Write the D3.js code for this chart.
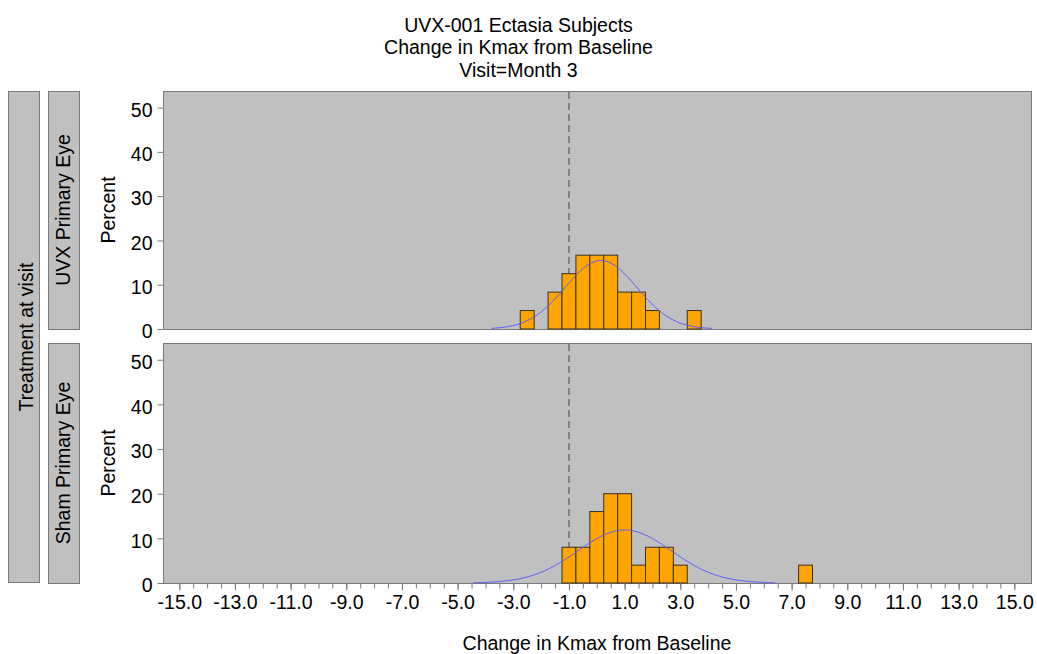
<!DOCTYPE html>
<html>
<head>
<meta charset="utf-8">
<script src="https://cdn.jsdelivr.net/npm/d3@7"></script>
<style>
    body { margin: 0; background: #fff; }
    text { font-family: "Liberation Sans", Arial, sans-serif; fill: #000; }
</style>
</head>
<body>
<div id="chart"></div>
<script>
// ---- data ----
var titleLines = ["UVX-001 Ectasia Subjects", "Change in Kmax from Baseline", "Visit=Month 3"];
var panelNames = ["UVX Primary Eye", "Sham Primary Eye"];
var rowLabel = "Treatment at visit";
var binWidth = 0.5;
var uvxBins = [-2.5, -1.5, -1.0, -0.5, 0.0, 0.5, 1.0, 1.5, 2.0, 3.5];
var uvxPercent = [4.17, 8.33, 12.5, 16.67, 16.67, 16.67, 8.33, 8.33, 4.17, 4.17];
var shamBins = [-1.0, -0.5, 0.0, 0.5, 1.0, 1.5, 2.0, 2.5, 3.0, 7.5];
var shamPercent = [8, 8, 16, 20, 20, 4, 8, 8, 4, 4];
// normal curve fitted to each panel: mean, sd, drawn range
var curveMean = [0.15, 1.0];
var curveSD = [1.29, 1.68];
var curveFrom = [-3.78, -4.44];
var curveTo = [4.13, 6.4];
var refLine = -1.0;
var xMajorTicks = d3.range(-15, 16, 2);
var xMinorTicks = d3.range(-15, 15.01, 0.5);
var yTicks = [0, 10, 20, 30, 40, 50];

var fontSize = "19.5px";
var width = 1037, height = 654;
var svg = d3.select("#chart").append("svg")
    .attr("width", width)
    .attr("height", height);

var left = 163, right = 1031;
var panels = [
    {top: 91, bottom: 329, bins: uvxBins, pct: uvxPercent},
    {top: 343, bottom: 583, bins: shamBins, pct: shamPercent}
];

var xScale = d3.scaleLinear().domain([-15.585, 15.6]).range([left, right]);

// title
svg.selectAll(".title")
    .data(titleLines)
    .enter()
    .append("text")
    .attr("x", 518.5)
    .attr("y", (d, i) => 31.5 + i * 22.6)
    .attr("text-anchor", "middle")
    .style("font-size", fontSize)
    .text(d => d);

// outer strip
svg.append("rect")
    .attr("x", 8.5).attr("y", 91.5)
    .attr("width", 31).attr("height", 491)
    .attr("fill", "#c0c0c0").attr("stroke", "#7a7a7a");
svg.append("text")
    .attr("transform", "translate(33," + (91 + 583) / 2 + ") rotate(-90)")
    .attr("text-anchor", "middle")
    .style("font-size", fontSize)
    .text(rowLabel);

panels.forEach(function(p, k) {
    var yScale = d3.scaleLinear().domain([0, 53.75]).range([p.bottom, p.top]);
    var g = svg.append("g");

    // inner strip
    g.append("rect")
        .attr("x", 48.5).attr("y", p.top + 0.5)
        .attr("width", 31).attr("height", p.bottom - p.top)
        .attr("fill", "#c0c0c0").attr("stroke", "#7a7a7a");
    g.append("text")
        .attr("transform", "translate(70," + (p.top + p.bottom) / 2 + ") rotate(-90)")
        .attr("text-anchor", "middle")
        .style("font-size", fontSize)
        .text(panelNames[k]);

    // panel background
    g.append("rect")
        .attr("x", left + 0.5).attr("y", p.top + 0.5)
        .attr("width", right - left).attr("height", p.bottom - p.top)
        .attr("fill", "#c0c0c0").attr("stroke", "#7a7a7a");

    // reference line
    g.append("line")
        .attr("x1", xScale(refLine)).attr("x2", xScale(refLine))
        .attr("y1", p.top + 1).attr("y2", p.bottom)
        .attr("stroke", "#707070")
        .attr("stroke-width", 1.5)
        .attr("stroke-dasharray", "7,4");

    // histogram bars
    g.selectAll(".bar")
        .data(p.bins)
        .enter()
        .append("rect")
        .attr("x", d => xScale(d - binWidth / 2))
        .attr("width", d => xScale(d + binWidth / 2) - xScale(d - binWidth / 2))
        .attr("y", (d, i) => yScale(p.pct[i]))
        .attr("height", (d, i) => yScale(0) - yScale(p.pct[i]))
        .attr("fill", "#ffa500")
        .attr("stroke", "#3a3020")
        .attr("stroke-width", 1);

    // normal curve
    var xs = d3.range(curveFrom[k], curveTo[k], 0.05).concat([curveTo[k]]);
    var m = curveMean[k], s = curveSD[k];
    var line = d3.line()
        .x(d => xScale(d))
        .y(d => yScale(100 * binWidth * Math.exp(-0.5 * Math.pow((d - m) / s, 2)) / (s * Math.sqrt(2 * Math.PI))));
    g.append("path")
        .datum(xs)
        .attr("d", line)
        .attr("fill", "none")
        .attr("stroke", "#5a5aff")
        .attr("stroke-width", 1);

    // y axis
    var yAxis = d3.axisLeft(yScale).tickValues(yTicks).tickSize(6).tickPadding(5);
    var ya = g.append("g")
        .attr("transform", "translate(" + (left + 0.5) + ",0)")
        .call(yAxis);
    ya.select(".domain").remove();
    ya.selectAll("line").attr("stroke", "#7a7a7a");
    ya.selectAll("text").style("font-size", fontSize).attr("dy", "0.45em");

    g.append("text")
        .attr("transform", "translate(115," + (p.top + p.bottom) / 2 + ") rotate(-90)")
        .attr("text-anchor", "middle")
        .style("font-size", fontSize)
        .text("Percent");
});

// x axis on bottom panel
var axisY = panels[1].bottom + 0.5;
var minor = svg.append("g")
    .attr("transform", "translate(0," + axisY + ")")
    .call(d3.axisBottom(xScale).tickValues(xMinorTicks).tickSize(5).tickFormat(""));
minor.select(".domain").remove();
minor.selectAll("line").attr("stroke", "#7a7a7a");

var major = svg.append("g")
    .attr("transform", "translate(0," + axisY + ")")
    .call(d3.axisBottom(xScale).tickValues(xMajorTicks).tickSize(7).tickPadding(5).tickFormat(d3.format(".1f")));
major.select(".domain").remove();
major.selectAll("line").attr("stroke", "#7a7a7a");
major.selectAll("text").style("font-size", fontSize).text(d => d3.format(".1f")(d).replace("−", "-"));

svg.append("text")
    .attr("x", (left + right) / 2)
    .attr("y", 650)
    .attr("text-anchor", "middle")
    .style("font-size", fontSize)
    .text("Change in Kmax from Baseline");
</script>
</body>
</html>
